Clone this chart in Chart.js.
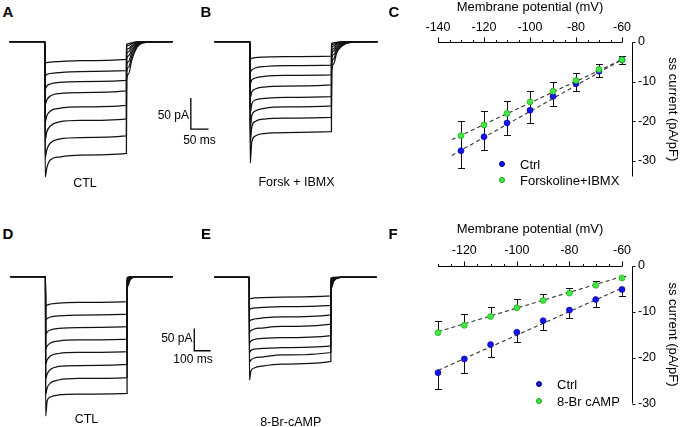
<!DOCTYPE html>
<html>
<head>
<meta charset="utf-8">
<script src="https://cdn.jsdelivr.net/npm/chart.js@4.4.1/dist/chart.umd.min.js"></script>
<style>
  body { margin: 0; background: #fff; }
  #fig { position: relative; width: 680px; height: 427px; overflow: hidden;
         font-family: "Liberation Sans", Arial, sans-serif; color: #000; }
  #fig canvas { position: absolute; }
  .t { position: absolute; white-space: nowrap; line-height: 1; font-size: 12.5px;
       transform: translate(-50%, -50%); }
  .r { transform: translate(-100%, -50%); font-size: 12px; }
  .l { transform: translate(0, -50%); font-size: 13px; }
  .p { position: absolute; font-weight: bold; font-size: 15px; line-height: 1;
       transform: translate(-50%, -50%); }
  .dot { position: absolute; width: 6px; height: 6px; border-radius: 50%;
         transform: translate(-50%, -50%); box-sizing: border-box; }
</style>
</head>
<body>
<div id="fig">
  <canvas id="cA" width="215" height="165" style="left:0;top:30px"></canvas>
  <canvas id="cB" width="180" height="165" style="left:205px;top:30px"></canvas>
  <canvas id="cD" width="215" height="172" style="left:0;top:255px"></canvas>
  <canvas id="cE" width="180" height="172" style="left:205px;top:255px"></canvas>
  <canvas id="cC" width="280" height="200" style="left:400px;top:0"></canvas>
  <canvas id="cF" width="280" height="205" style="left:400px;top:222px"></canvas>

  <div class="p" style="left:8px;top:10.5px">A</div>
  <div class="p" style="left:206px;top:10.5px">B</div>
  <div class="p" style="left:394px;top:10.5px">C</div>
  <div class="p" style="left:8px;top:233px">D</div>
  <div class="p" style="left:206px;top:233px">E</div>
  <div class="p" style="left:393px;top:233px">F</div>

  <div class="t" style="left:85px;top:182.5px">CTL</div>
  <div class="t" style="left:296.5px;top:181.5px">Forsk + IBMX</div>
  <div class="t r" style="left:189px;top:115px">50 pA</div>
  <div class="t" style="left:199.5px;top:140px;font-size:12px">50 ms</div>

  <div class="t" style="left:86.5px;top:418.5px">CTL</div>
  <div class="t" style="left:290.7px;top:421.5px">8-Br-cAMP</div>
  <div class="t r" style="left:192.5px;top:338px">50 pA</div>
  <div class="t" style="left:193px;top:358.7px;font-size:12px">100 ms</div>

  <div class="dot" style="left:501.7px;top:164.3px;background:#1414ee;border:0.6px solid #00008b"></div>
  <div class="t l" style="left:520px;top:164px">Ctrl</div>
  <div class="dot" style="left:501.7px;top:180.3px;background:#3ee83e;border:0.6px solid #1d9b1d"></div>
  <div class="t l" style="left:520px;top:180px">Forskoline+IBMX</div>

  <div class="dot" style="left:539px;top:384px;background:#1414ee;border:0.6px solid #00008b"></div>
  <div class="t l" style="left:557px;top:384px">Ctrl</div>
  <div class="dot" style="left:539px;top:400.7px;background:#3ee83e;border:0.6px solid #1d9b1d"></div>
  <div class="t l" style="left:557px;top:400.5px">8-Br cAMP</div>
</div>

<script>
// ---------------- data ----------------
// A / B: whole-cell current sweeps (pA), sampled at times (ms) after step onset
const sweepAB = [-100, 360];
const stepTimesAB = [0.5, 5, 15, 40, 100, 230];
const tailTimesAB = [230.5, 236, 245, 260, 285];
const ctlA = [
  [-34.4, -33.6, -32.8, -32.0, -30.4, -28.4],
  [-55.3, -52.9, -51.3, -49.7, -48.1, -46.8],
  [-76.3, -71.5, -68.2, -65.8, -64.2, -62.4],
  [-101.6, -94.0, -87.6, -83.6, -82.0, -79.5],
  [-129.5, -119.8, -111.7, -107.7, -105.3, -102.9],
  [-158.6, -145.7, -136.0, -129.5, -127.1, -124.4],
  [-187.6, -174.7, -163.4, -157.0, -154.6, -152.1],
  [-218.2, -203.7, -190.8, -186.0, -182.8, -180.2]
];
const tailA = [
  [-4, -3, -2, 0, 0],
  [-8, -6, -3, -1, 0],
  [-13, -11, -6, -2, 0],
  [-20, -16, -9, -3, 0],
  [-28, -23, -13, -4, 0],
  [-38, -32, -18, -5, 0],
  [-49, -41, -24, -7, -1],
  [-62, -52, -30, -9, -1]
];
const forskB = [
  [-27.9, -26.8, -25.5, -24.7, -23.9, -23.1],
  [-48.9, -45.6, -42.4, -40.0, -38.4, -37.6],
  [-68.2, -61.8, -58.6, -56.1, -54.5, -53.7],
  [-90.8, -81.1, -76.3, -73.1, -71.5, -69.8],
  [-115.0, -100.5, -94.0, -91.6, -90.0, -88.7],
  [-139.2, -119.0, -111.8, -107.7, -105.3, -103.7],
  [-163.4, -137.6, -128.7, -124.7, -123.1, -121.9],
  [-195.9, -162.0, -152.1, -148.1, -146.5, -145.2]
];
const tailB = [
  [-3, -2, -1, 0, 0],
  [-6, -4, -2, -1, 0],
  [-10, -7, -3, -1, 0],
  [-15, -11, -5, -2, 0],
  [-21, -15, -8, -3, 0],
  [-29, -21, -11, -4, 0],
  [-38, -28, -14, -5, -1],
  [-48, -36, -18, -7, -1]
];
const barTimeAB = [412, 412, 462];      // 50 ms
const barCurrentAB = [-91, -141, -141]; // 50 pA

// D / E
const sweepDE = [-215, 780];
const stepTimesDE = [1, 10, 30, 80, 200, 500];
const tailTimesDE = [501, 506, 515, 530, 560];
const ctlD = [
  [-65.7, -63.4, -61.2, -59.0, -57.8, -56.1],
  [-97.1, -93.7, -90.4, -88.1, -85.9, -84.1],
  [-128.5, -124.0, -119.5, -116.1, -113.9, -112.1],
  [-162.1, -155.4, -148.6, -144.2, -141.9, -140.1],
  [-195.7, -186.8, -177.8, -172.2, -169.9, -168.2],
  [-229.3, -218.1, -208.0, -201.3, -199.1, -196.8],
  [-263.0, -249.5, -238.3, -231.6, -228.2, -226.0],
  [-312.3, -278.7, -269.7, -265.2, -263.0, -261.4]
];
const tailD = [
  [-2, -1, 0, 0, 0],
  [-4, -2, -1, 0, 0],
  [-7, -4, -2, 0, 0],
  [-11, -6, -3, -1, 0],
  [-15, -9, -4, -1, 0],
  [-20, -12, -6, -2, 0],
  [-27, -16, -8, -2, 0],
  [-34, -20, -10, -3, 0]
];
const campE = [
  [-48.7, -47.5, -46.4, -45.3, -44.2, -41.9],
  [-72.2, -70.0, -68.8, -67.7, -65.5, -62.8],
  [-98.0, -95.7, -93.5, -91.2, -89.0, -84.5],
  [-122.6, -119.3, -115.9, -113.7, -110.3, -105.2],
  [-147.3, -142.8, -139.5, -137.2, -135.0, -130.5],
  [-168.6, -164.1, -160.8, -159.6, -157.4, -153.6],
  [-189.9, -185.4, -180.9, -178.7, -174.2, -168.6],
  [-230.3, -210.1, -203.4, -198.9, -194.4, -188.3]
];
const tailE = [
  [-2, -1, 0, 0, 0],
  [-5, -3, -1, 0, 0],
  [-8, -5, -2, -1, 0],
  [-12, -7, -4, -1, 0],
  [-16, -10, -5, -2, 0],
  [-22, -13, -7, -2, 0],
  [-29, -17, -9, -3, 0],
  [-37, -22, -11, -4, 0]
];
const barTimeDE = [912, 912, 1012];      // 100 ms
const barCurrentDE = [-116, -166, -166]; // 50 pA

// C: steady-state current density (pA/pF)
const vC = [-130, -120, -110, -100, -90, -80, -70, -60];
const ctrlC = [-27.4, -23.9, -20.4, -17.2, -13.7, -10.5, -7.4, -4.5];
const ctrlErrC = [4.4, 3.4, 3.1, 3.1, 2.4, 1.8, 1.4, 1.0];
const forskC = [-23.6, -20.9, -18.0, -15.1, -12.4, -9.7, -6.9, -4.5];
const forskErrC = [3.8, 3.5, 3.2, 2.7, 2.4, 1.8, 1.4, 1.0];
const fitVC = [-134, -59];
const fitCtrlC = [-28.6, -4.1];
const fitForskC = [-24.6, -4.2];
const xTicksC = [-140, -120, -100, -80, -60];
const yTicksC = [0, -10, -20, -30];

// F
const vF = [-130, -120, -110, -100, -90, -80, -70, -60];
const ctrlF = [-23.3, -20.3, -17.2, -14.5, -12.0, -9.7, -7.4, -5.2];
const ctrlErrF = [3.5, 3.0, 2.6, 2.2, 2.1, 1.7, 1.7, 1.5];
const campF = [-14.6, -13.0, -11.1, -9.2, -7.6, -6.0, -4.3, -2.7];
const campErrF = [2.5, 2.4, 2.1, 2.0, 1.4, 1.2, 0.9, 0.5];
const fitVF = [-130, -60];
const fitCtrlF = [-22.8, -4.9];
const fitCampF = [-14.4, -2.4];
const xTicksF = [-120, -100, -80, -60];
const yTicksF = [0, -10, -20, -30];

// ---------------- drawing ----------------
Chart.defaults.font.family = "'Liberation Sans', Arial, sans-serif";
Chart.defaults.color = '#000';

const BLUE = '#1414ee', BLUE_EDGE = '#00008b';
const GREEN = '#3ee83e', GREEN_EDGE = '#1d9b1d';

function sweeps(win, stepT, levels, tailT, tails) {
  return levels.map((lv, i) => {
    const pts = [{x: win[0], y: 0}, {x: 0, y: 0}];
    stepT.forEach((t, k) => pts.push({x: t, y: lv[k]}));
    tailT.forEach((t, k) => pts.push({x: t, y: tails[i][k]}));
    pts.push({x: win[1], y: 0});
    return {data: pts, borderColor: '#111', borderWidth: 1.25, pointRadius: 0,
            cubicInterpolationMode: 'monotone', clip: false};
  });
}

// frame: canvas px of (0 ms, 0 pA) and units per px
function traceChart(id, frame, ds, barT, barI) {
  const c = document.getElementById(id);
  const W = c.width, H = c.height;
  if (barT) {
    ds.push({data: barT.map((t, k) => ({x: t, y: barI[k]})), borderColor: '#000',
             borderWidth: 1.3, pointRadius: 0, tension: 0, clip: false});
  }
  new Chart(c, {
    type: 'line',
    data: {datasets: ds},
    options: {
      responsive: false, animation: false, events: [],
      layout: {padding: 0},
      plugins: {legend: {display: false}, tooltip: {enabled: false}},
      scales: {
        x: {type: 'linear', display: false,
            min: -frame.x0 * frame.ms, max: (W - frame.x0) * frame.ms},
        y: {type: 'linear', display: false,
            min: -(H - frame.y0) * frame.pA, max: frame.y0 * frame.pA}
      }
    }
  });
}

traceChart('cA', {x0: 45, y0: 11.7, ms: 2.825, pA: 1.613},
  sweeps(sweepAB, stepTimesAB, ctlA, tailTimesAB, tailA), barTimeAB, barCurrentAB);
traceChart('cB', {x0: 45, y0: 11.7, ms: 2.825, pA: 1.613},
  sweeps(sweepAB, stepTimesAB, forskB, tailTimesAB, tailB));
traceChart('cD', {x0: 45.5, y0: 21.7, ms: 6.13, pA: 2.242},
  sweeps(sweepDE, stepTimesDE, ctlD, tailTimesDE, tailD), barTimeDE, barCurrentDE);
traceChart('cE', {x0: 44.3, y0: 22.3, ms: 6.13, pA: 2.242},
  sweeps(sweepDE, stepTimesDE, campE, tailTimesDE, tailE));

// error bars: errHi above the mean, errLo below; caps only where asked
const errorBars = {
  id: 'errorBars',
  beforeDatasetsDraw(chart) {
    const {ctx, scales: {x, y}} = chart;
    ctx.save();
    ctx.strokeStyle = '#111';
    ctx.lineWidth = 1;
    chart.data.datasets.forEach(ds => {
      if (!ds.errHi) return;
      ds.data.forEach((p, k) => {
        const px = Math.round(x.getPixelForValue(p.x)) + 0.5;
        const top = Math.round(y.getPixelForValue(p.y + ds.errHi[k])) + 0.5;
        const bot = Math.round(y.getPixelForValue(p.y - ds.errLo[k])) + 0.5;
        ctx.beginPath();
        ctx.moveTo(px, top); ctx.lineTo(px, bot);
        if (ds.capHi) { ctx.moveTo(px - 3.5, top); ctx.lineTo(px + 3.5, top); }
        if (ds.capLo) { ctx.moveTo(px - 3.5, bot); ctx.lineTo(px + 3.5, bot); }
        ctx.stroke();
      });
    });
    ctx.restore();
  }
};

// axis lines and tick marks: top x axis with minor ticks, y axis offset to the right
const axisMarks = {
  id: 'axisMarks',
  afterDraw(chart, args, opts) {
    const {ctx, chartArea: a, scales: {x, y}} = chart;
    ctx.save();
    ctx.strokeStyle = '#000';
    ctx.lineWidth = 1;
    ctx.beginPath();
    const ax = Math.round(a.top) + 0.5;
    ctx.moveTo(a.left, ax); ctx.lineTo(a.right, ax);
    for (let v = x.min; v <= x.max + 0.01; v += opts.minor) {
      const px = Math.round(x.getPixelForValue(v)) + 0.5;
      const len = Math.round(v) % opts.major === 0 ? 5 : 2.5;
      ctx.moveTo(px, ax); ctx.lineTo(px, ax - len);
    }
    const yx = Math.round(a.right + opts.yOffset) + 0.5;
    ctx.moveTo(yx, ax); ctx.lineTo(yx, a.bottom);
    opts.yTicks.forEach(v => {
      const py = Math.round(y.getPixelForValue(v)) + 0.5;
      ctx.moveTo(yx, py); ctx.lineTo(yx + 3, py);
    });
    ctx.stroke();
    ctx.restore();
  }
};

function ivChart(id, cfg) {
  const pts = (vs, ys) => vs.map((v, k) => ({x: v, y: ys[k]}));
  const dot = (fill, edge) => ({type: 'line', showLine: false, pointRadius: 3,
    pointBackgroundColor: fill, pointBorderColor: edge, pointBorderWidth: 0.6,
    clip: false, order: 0});
  const fit = ys => ({type: 'line', data: pts(cfg.fitV, ys), borderColor: '#333',
    borderWidth: 1.1, borderDash: [4, 3], pointRadius: 0, clip: false, order: 2});
  new Chart(document.getElementById(id), {
    type: 'line',
    data: {datasets: [
      Object.assign(dot(GREEN, GREEN_EDGE), {data: pts(cfg.v, cfg.b), errHi: cfg.bHi, errLo: cfg.bLo,
        capHi: true, capLo: false}),
      Object.assign(dot(BLUE, BLUE_EDGE), {data: pts(cfg.v, cfg.a), errHi: cfg.aHi, errLo: cfg.aLo,
        capHi: false, capLo: true}),
      fit(cfg.fitA), fit(cfg.fitB)
    ]},
    options: {
      responsive: false, animation: false, events: [],
      layout: {padding: {left: 38, top: 0, right: 0, bottom: cfg.padBottom}},
      plugins: {legend: {display: false}, tooltip: {enabled: false},
                axisMarks: {minor: 5, major: 20, yOffset: 10, yTicks: cfg.yTicks}},
      scales: {
        x: {type: 'linear', position: 'top', min: cfg.xMin, max: -60,
            afterBuildTicks: s => { s.ticks = cfg.xTicks.map(v => ({value: v})); },
            afterFit: s => { s.height = cfg.axisTop; },
            grid: {display: false, drawTicks: false}, border: {display: false},
            ticks: {padding: 7, font: {size: 12.5}, color: '#000', maxRotation: 0, autoSkip: false},
            title: {display: true, text: 'Membrane potential (mV)', font: {size: 13},
                    color: '#000', padding: 0}},
        y: {type: 'linear', position: 'right', min: cfg.yMin, max: 0,
            afterBuildTicks: s => { s.ticks = cfg.yTicks.map(v => ({value: v})); },
            afterFit: s => { s.width = 58; },
            grid: {display: false, drawTicks: false}, border: {display: false},
            ticks: {padding: 16, font: {size: 12.5}, color: '#000', autoSkip: false},
            title: {display: true, text: 'ss current (pA/pF)', font: {size: 13},
                    color: '#000', padding: 0}}
      }
    },
    plugins: [errorBars, axisMarks]
  });
}

// C: bars run through both means, caps on the outer ends
ivChart('cC', {
  v: vC, a: ctrlC, aHi: ctrlErrC, aLo: ctrlErrC, b: forskC, bHi: forskErrC, bLo: forskErrC,
  fitV: fitVC, fitA: fitCtrlC, fitB: fitForskC,
  xMin: -140, xTicks: xTicksC, yMin: -33.9, yTicks: yTicksC, axisTop: 42, padBottom: 16
});
// F: Ctrl bars point down, 8-Br cAMP bars point up
ivChart('cF', {
  v: vF, a: ctrlF, aHi: vF.map(() => 0), aLo: ctrlErrF, b: campF, bHi: campErrF, bLo: vF.map(() => 0),
  fitV: fitVF, fitA: fitCtrlF, fitB: fitCampF,
  xMin: -130, xTicks: xTicksF, yMin: -30, yTicks: yTicksF, axisTop: 43.5, padBottom: 18.7
});
</script>
</body>
</html>
